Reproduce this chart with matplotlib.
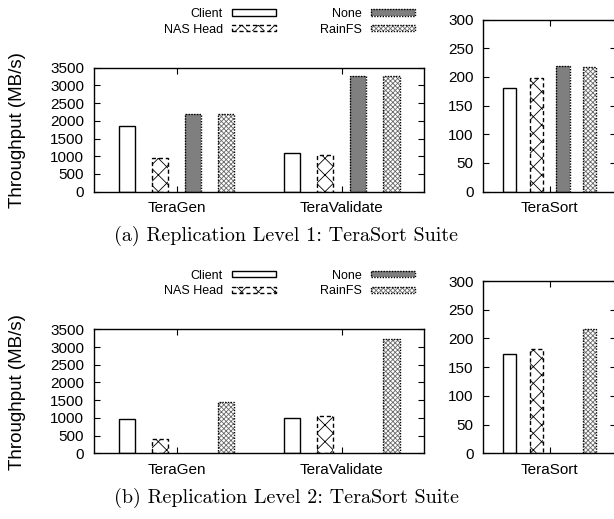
import numpy as np
import matplotlib
matplotlib.use("Agg")
import matplotlib.pyplot as plt

plt.rcParams["font.family"] = ["Liberation Sans", "DejaVu Sans"]
plt.rcParams["hatch.linewidth"] = 0.6

series = ["Client", "NAS Head", "None", "RainFS"]
groups_left = ["TeraGen", "TeraValidate"]
groups_right = ["TeraSort"]

# Replication level 1 (MB/s)
r1_client = [1850, 1100]
r1_nas = [960, 1030]
r1_none = [2180, 3260]
r1_rainfs = [2200, 3260]
r1_sort = [180, 198, 219, 218]  # Client, NAS Head, None, RainFS

# Replication level 2 (MB/s); "None" has no bars
r2_client = [970, 1010]
r2_nas = [410, 1040]
r2_none = [np.nan, np.nan]
r2_rainfs = [1440, 3220]
r2_sort = [173, 181, np.nan, 216]

captions = ["(a) Replication Level 1: TeraSort Suite",
            "(b) Replication Level 2: TeraSort Suite"]

# fill pattern first, outline second (gnuplot style boxes)
styles = {
    "Client": dict(facecolor="white", hatch=None, hatchcolor=None, linestyle="-"),
    "NAS Head": dict(facecolor="white", hatch="xx", hatchcolor="black",
                     linestyle=(0, (3, 2))),
    "None": dict(facecolor="#7f7f7f", hatch=None, hatchcolor=None,
                 linestyle=(0, (1, 1))),
    "RainFS": dict(facecolor="white", hatch="xxxxxxx", hatchcolor="#6a6a6a",
                   linestyle=(0, (1, 1))),
}
offsets = [-0.3, -0.1, 0.1, 0.3]
W, H = 614, 519


def px_axes(fig, x0, y0, x1, y1):
    return fig.add_axes([x0 / W, 1 - y1 / H, (x1 - x0) / W, (y1 - y0) / H])


def draw_panel(ax, groups, cols, ymax, ystep):
    x = np.arange(len(groups))
    handles = []
    for name, off, vals in zip(series, offsets, cols):
        st = styles[name]
        fill = ax.bar(x + off, vals, 0.1, facecolor=st["facecolor"],
                      edgecolor=st["hatchcolor"] or "none", hatch=st["hatch"],
                      linewidth=0)
        edge = ax.bar(x + off, vals, 0.1, fill=False, edgecolor="black",
                      linewidth=1.0, linestyle=st["linestyle"])
        handles.append((fill, edge))
    ax.set_xlim(-0.5, len(groups) - 0.5)
    ax.set_ylim(0, ymax)
    ax.set_yticks(np.arange(0, ymax + 1, ystep))
    ax.set_xticks(x)
    ax.set_xticklabels(groups)
    ax.tick_params(direction="in", top=True, right=True, length=4, width=0.8,
                   labelsize=11)
    ax.tick_params(axis="y", pad=7)
    ax.tick_params(axis="x", pad=7)
    for s in ax.spines.values():
        s.set_linewidth(1.0)
    return handles


fig = plt.figure(figsize=(W / 100, H / 100), dpi=100)

rows = [
    ([r1_client, r1_nas, r1_none, r1_rainfs], r1_sort),
    ([r2_client, r2_nas, r2_none, r2_rainfs], r2_sort),
]
dy = 261.6
for i, (left_cols, sort_vals) in enumerate(rows):
    off = i * dy
    axl = px_axes(fig, 94, 67.7 + off, 424.3, 191.7 + off)
    handles = draw_panel(axl, groups_left, left_cols, 3500, 500)
    axr = px_axes(fig, 483.3, 19.5 + off, 616, 191.7 + off)
    draw_panel(axr, groups_right, [[v] for v in sort_vals], 300, 50)

    fig.text(17.5 / W, 1 - (130 + off) / H, "Throughput (MB/s)", rotation=90,
             ha="center", va="center", fontsize=13.5)
    fig.legend(handles, series, ncol=2, loc="upper right",
               bbox_to_anchor=(415 / W, 1 - (8 + off) / H), frameon=False,
               markerfirst=False, fontsize=9, handlelength=3.5,
               handleheight=0.4, handletextpad=0.76, columnspacing=3.5,
               labelspacing=0.3, borderpad=0, borderaxespad=0)
    fig.text(286 / W, 1 - (236 + off) / H, captions[i], ha="center",
             va="center", fontsize=14.5, family=["cmr10", "DejaVu Serif"])

fig.savefig("out.png", dpi=100)
